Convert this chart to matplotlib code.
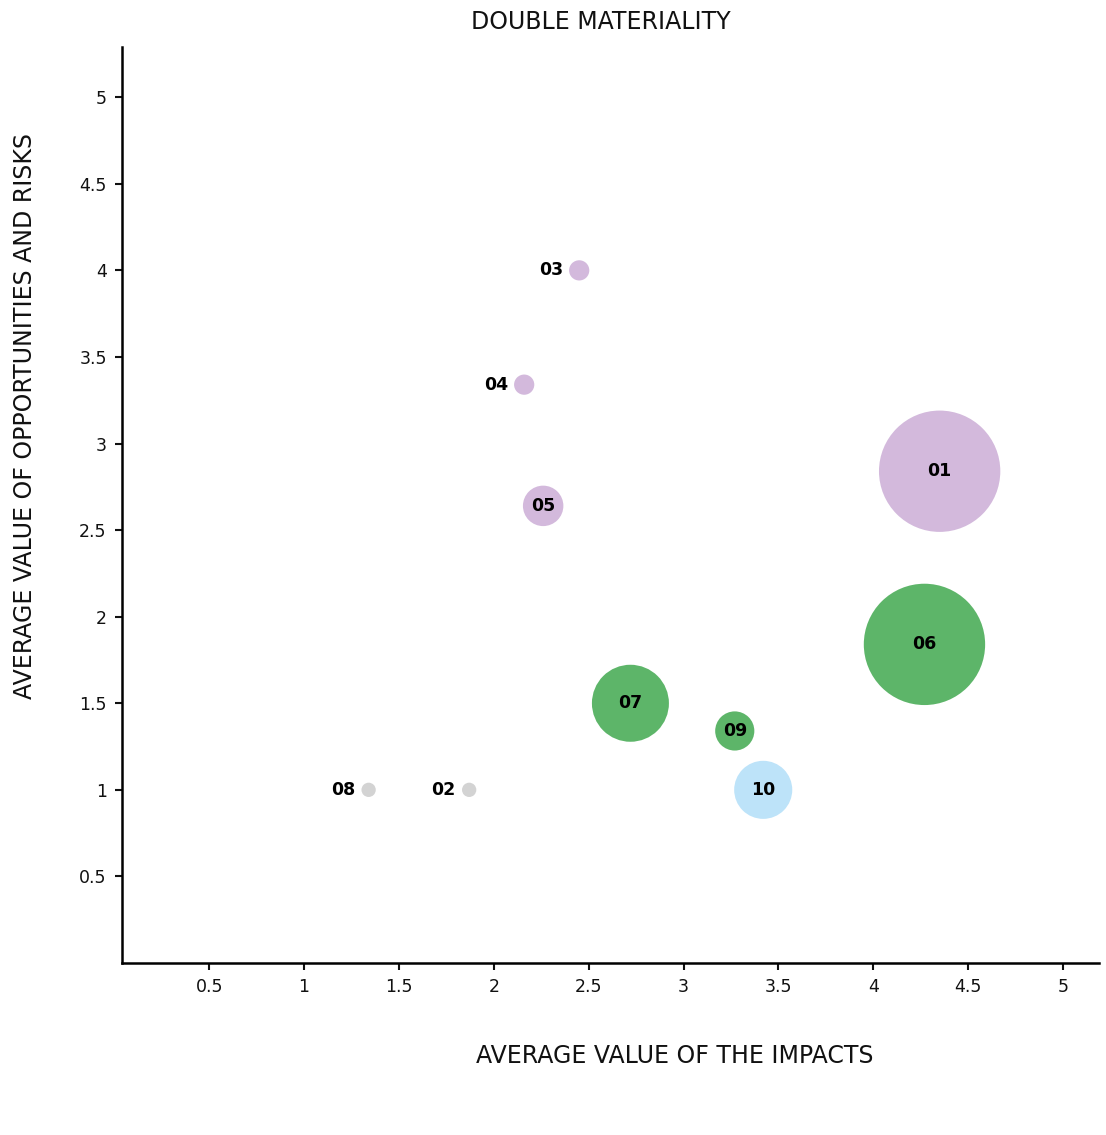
import matplotlib
matplotlib.use("Agg")
import matplotlib.pyplot as plt

# topics (id, impact score, opportunity/risk score, weight, group)
labels = ["01", "02", "03", "04", "05", "06", "07", "08", "09", "10"]
impacts = [4.35, 1.87, 2.45, 2.16, 2.26, 4.27, 2.72, 1.34, 3.27, 3.42]
opp_risks = [2.84, 1.0, 4.0, 3.34, 2.64, 1.84, 1.5, 1.0, 1.34, 1.0]
weights = [72, 1, 2, 2, 8, 72, 29, 1, 7.5, 16.5]
groups = ["gov", "other", "gov", "gov", "gov", "env", "env", "other", "env", "soc"]

colors = {"gov": "#d3b9dc", "env": "#5db569", "soc": "#bde3f9", "other": "#d3d3d3"}
ticks = [0.5, 1, 1.5, 2, 2.5, 3, 3.5, 4, 4.5, 5]

fig = plt.figure(figsize=(11.06, 11.35), dpi=100)
ax = fig.add_axes([122 / 1106, 1 - 963 / 1135, (1099 - 122) / 1106, (963 - 47) / 1135])

base = 106  # marker area (pt^2) for weight 1
sizes = [w * base for w in weights]
ax.scatter(impacts, opp_risks, s=sizes, c=[colors[g] for g in groups],
           linewidths=0, zorder=2)

for lab, x, y, s in zip(labels, impacts, opp_risks, sizes):
    r_pt = s ** 0.5 / 2
    if r_pt < 12:
        ax.annotate(lab, (x, y), xytext=(-(r_pt + 4.5), 0), textcoords="offset points",
                    ha="right", va="center", fontsize=12.5, fontweight="bold", zorder=3)
    else:
        ax.annotate(lab, (x, y), ha="center", va="center",
                    fontsize=12.5, fontweight="bold", zorder=3)

ax.set_xlim(0.04, 5.19)
ax.set_ylim(0.0, 5.29)
ax.set_xticks(ticks)
ax.set_yticks(ticks)
ax.set_xticklabels([f"{t:g}" for t in ticks])
ax.set_yticklabels([f"{t:g}" for t in ticks])
ax.tick_params(labelsize=12.5, width=1.5, length=5, colors="#111111", pad=6)
for side in ["top", "right"]:
    ax.spines[side].set_visible(False)
for side in ["left", "bottom"]:
    ax.spines[side].set_linewidth(1.8)

fig.text(601 / 1106, 1 - 22 / 1135, "DOUBLE MATERIALITY", ha="center", va="center",
         fontsize=17, color="#111111")
fig.text(675 / 1106, 1 - 1056 / 1135, "AVERAGE VALUE OF THE IMPACTS", ha="center",
         va="center", fontsize=17, color="#111111")
fig.text(25 / 1106, 1 - 416 / 1135, "AVERAGE VALUE OF OPPORTUNITIES AND RISKS",
         ha="center", va="center", rotation=90, fontsize=17, color="#111111")

fig.savefig("out.png", dpi=100)
